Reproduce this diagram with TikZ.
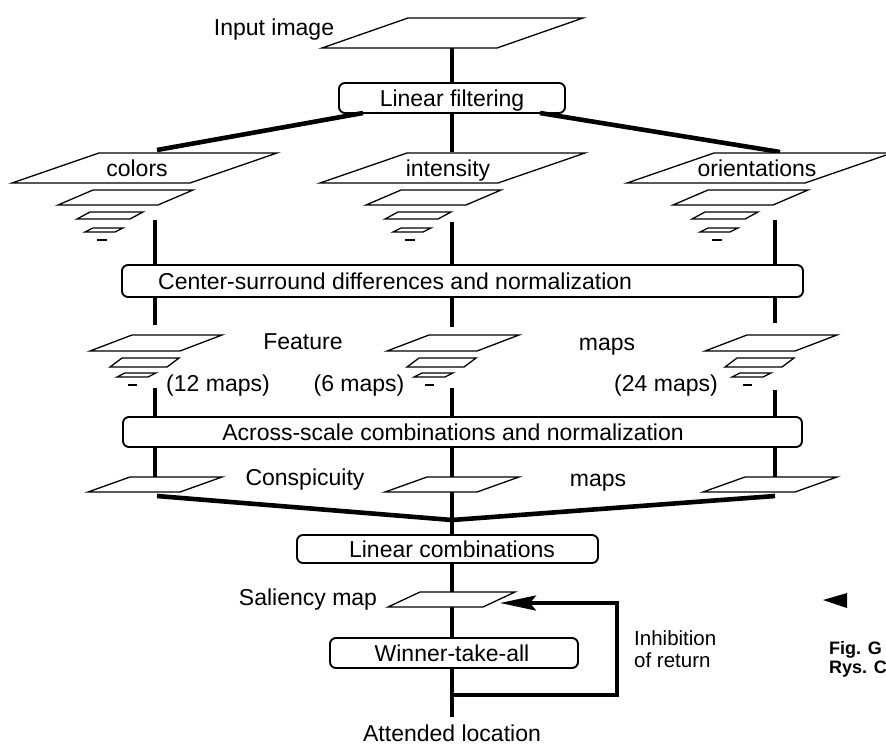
\documentclass[tikz,border=0pt]{standalone}
\usepackage{fontspec}
\setmainfont{Liberation Sans}
\usetikzlibrary{arrows.meta}
\newcommand{\plgm}[5]{\draw[plg] (#1,#2) -- ++(#3,0) -- ++(#4,-#5) -- ++(-#3,0) -- cycle;}
\newcommand{\pyrA}[1]{%
 \plgm{#1}{183}{178}{87}{30}
 \plgm{#1+46}{205}{100}{35}{15}
 \plgm{#1+65}{219}{53}{13}{7}
 \plgm{#1+73}{232}{30}{8}{4}
 \draw[plg] (#1+85,240) -- (#1+95,240);}
\newcommand{\pyrB}[1]{%
 \plgm{#1}{351}{90}{42}{16}
 \plgm{#1+20}{367}{57}{12}{9}
 \plgm{#1+27}{377}{31}{8}{4}
 \draw[plg] (#1+38,385) -- (#1+47,385);}
\begin{document}
\begin{tikzpicture}[x=1pt,y=-1pt,
  box/.style={draw,line width=1.9pt,rounded corners=6pt,fill=white,inner sep=0pt},
  lbl/.style={font=\fontsize{23}{27}\selectfont,inner sep=0pt,text height=16.5pt,text depth=0pt},
  small lbl/.style={font=\fontsize{20.5}{24}\selectfont,inner sep=0pt,text height=14.7pt,text depth=0pt,anchor=west},
  fig lbl/.style={font=\fontsize{18}{22}\selectfont\bfseries,inner sep=0pt,text height=12.9pt,text depth=0pt,anchor=west},
  plg/.style={draw,fill=white,line width=1.3pt,line join=miter},
  conn/.style={line width=3.6pt},
  fatconn/.style={line width=4.6pt},
]
\useasboundingbox[fill=white] (0,0) rectangle (886,745);
\clip (0,0) rectangle (886,745);

% boxes
\node[box,minimum width=226pt,minimum height=30pt] (lf) at (452,98) {};
\node[box,minimum width=681pt,minimum height=32pt] (cs) at (462.5,281) {};
\node[box,minimum width=679pt,minimum height=30pt] (as) at (462.5,432) {};
\node[box,minimum width=301pt,minimum height=28pt] (lc) at (447.5,549) {};
\node[box,minimum width=248pt,minimum height=30pt] (wta) at (454,653) {};

% coordinates
\coordinate (inB) at (452,48);
\coordinate (intT) at (452,152);
\coordinate (lfL) at (363,113);
\coordinate (lfR) at (540,113);
\coordinate (colT) at (157,150);
\coordinate (oriT) at (780,152);
\coordinate (colB) at (155,220);
\coordinate (intB) at (452,222);
\coordinate (oriB) at (775,220);
\coordinate (colF) at (155,325);
\coordinate (intF) at (452,327);
\coordinate (oriF) at (775,323);
\coordinate (colFB) at (155,388);
\coordinate (intFB) at (452,388);
\coordinate (oriFB) at (775,390);
\coordinate (colC) at (155,477);
\coordinate (intC) at (452,477);
\coordinate (oriC) at (775,477);
\coordinate (colCB) at (157,496);
\coordinate (oriCB) at (775,496);
\coordinate (intCB) at (452,492);
\coordinate (mrg) at (452,520);
\coordinate (salT) at (452,592);
\coordinate (salB) at (452,607);
\coordinate (salR) at (500,603);
\coordinate (att) at (452,717);
\coordinate (loopS) at (452,695);
\coordinate (loopC) at (617,603);

% connectors
\draw[conn] (inB) -- (inB |- lf.north);
\draw[conn] (intT |- lf.south) -- (intT);
\draw[fatconn] (lfL) -- (colT);
\draw[fatconn] (lfR) -- (oriT);
\draw[conn] (colB) -- (colB |- cs.north);
\draw[conn] (intB) -- (intB |- cs.north);
\draw[conn] (oriB) -- (oriB |- cs.north);
\draw[conn] (colF |- cs.south) -- (colF);
\draw[conn] (intF |- cs.south) -- (intF);
\draw[conn] (oriF |- cs.south) -- (oriF);
\draw[conn] (colFB) -- (colFB |- as.north);
\draw[conn] (intFB) -- (intFB |- as.north);
\draw[conn] (oriFB) -- (oriFB |- as.north);
\draw[conn] (colC |- as.south) -- (colC);
\draw[conn] (intC |- as.south) -- (intC);
\draw[conn] (oriC |- as.south) -- (oriC);
\draw[fatconn] (colCB) -- (mrg);
\draw[fatconn] (oriCB) -- (mrg);
\draw[conn] (intCB) -- (intCB |- lc.north);
\draw[conn] (salT |- lc.south) -- (salT);
\draw[conn] (salB) -- (salB |- wta.north);
\draw[conn] (att |- wta.south) -- (att);
\draw[conn,-{Stealth[length=36pt,width=15pt,inset=6pt]}] (loopS) -| (loopC) -- (salR);

% parallelograms
\plgm{322}{48}{175}{86}{30}
\pyrA{12}
\pyrA{320}
\pyrA{627}
\pyrB{90}
\pyrB{387}
\pyrB{705}
\plgm{88}{492}{92}{42}{15}
\plgm{385}{492}{92}{42}{15}
\plgm{703}{492}{92}{42}{15}
\plgm{388}{607}{95}{32}{15}

% texts
\node[lbl] (tin) at (274,27) {Input image};
\node[lbl] (tlf) at (lf) {Linear filtering};
\node[lbl] (tcol) at (137,168) {colors};
\node[lbl] (tint) at (448,168) {intensity};
\node[lbl] (tori) at (757,168) {orientations};
\node[lbl,anchor=west] (tcs) at (158,281) {Center-surround differences and normalization};
\node[lbl] (tfeat) at (303,341) {Feature};
\node[lbl] (tfmaps) at (607,342) {maps};
\node[lbl] (t12) at (218,383) {(12 maps)};
\node[lbl] (t6) at (359,383) {(6 maps)};
\node[lbl] (t24) at (666,383) {(24 maps)};
\node[lbl] (tas) at (453,432) {Across-scale combinations and normalization};
\node[lbl] (tcon) at (305,477) {Conspicuity};
\node[lbl] (tcmaps) at (598,478) {maps};
\node[lbl] (tlc) at (452,549) {Linear combinations};
\node[lbl] (tsal) at (308,597) {Saliency map};
\node[lbl] (twta) at (452,653) {Winner-take-all};
\node[small lbl] (tinh) at (634,638) {Inhibition};
\node[small lbl] (tret) at (634,660) {of return};
\node[lbl] (tatt) at (452,733) {Attended location};

% side marker
\fill (823,600) -- (847,593) -- (847,608) -- cycle;
\node[fig lbl] (tfig) at (829,648) {Fig. G};
\node[fig lbl] (trys) at (829,667) {Rys. C};
\end{tikzpicture}
\end{document}
